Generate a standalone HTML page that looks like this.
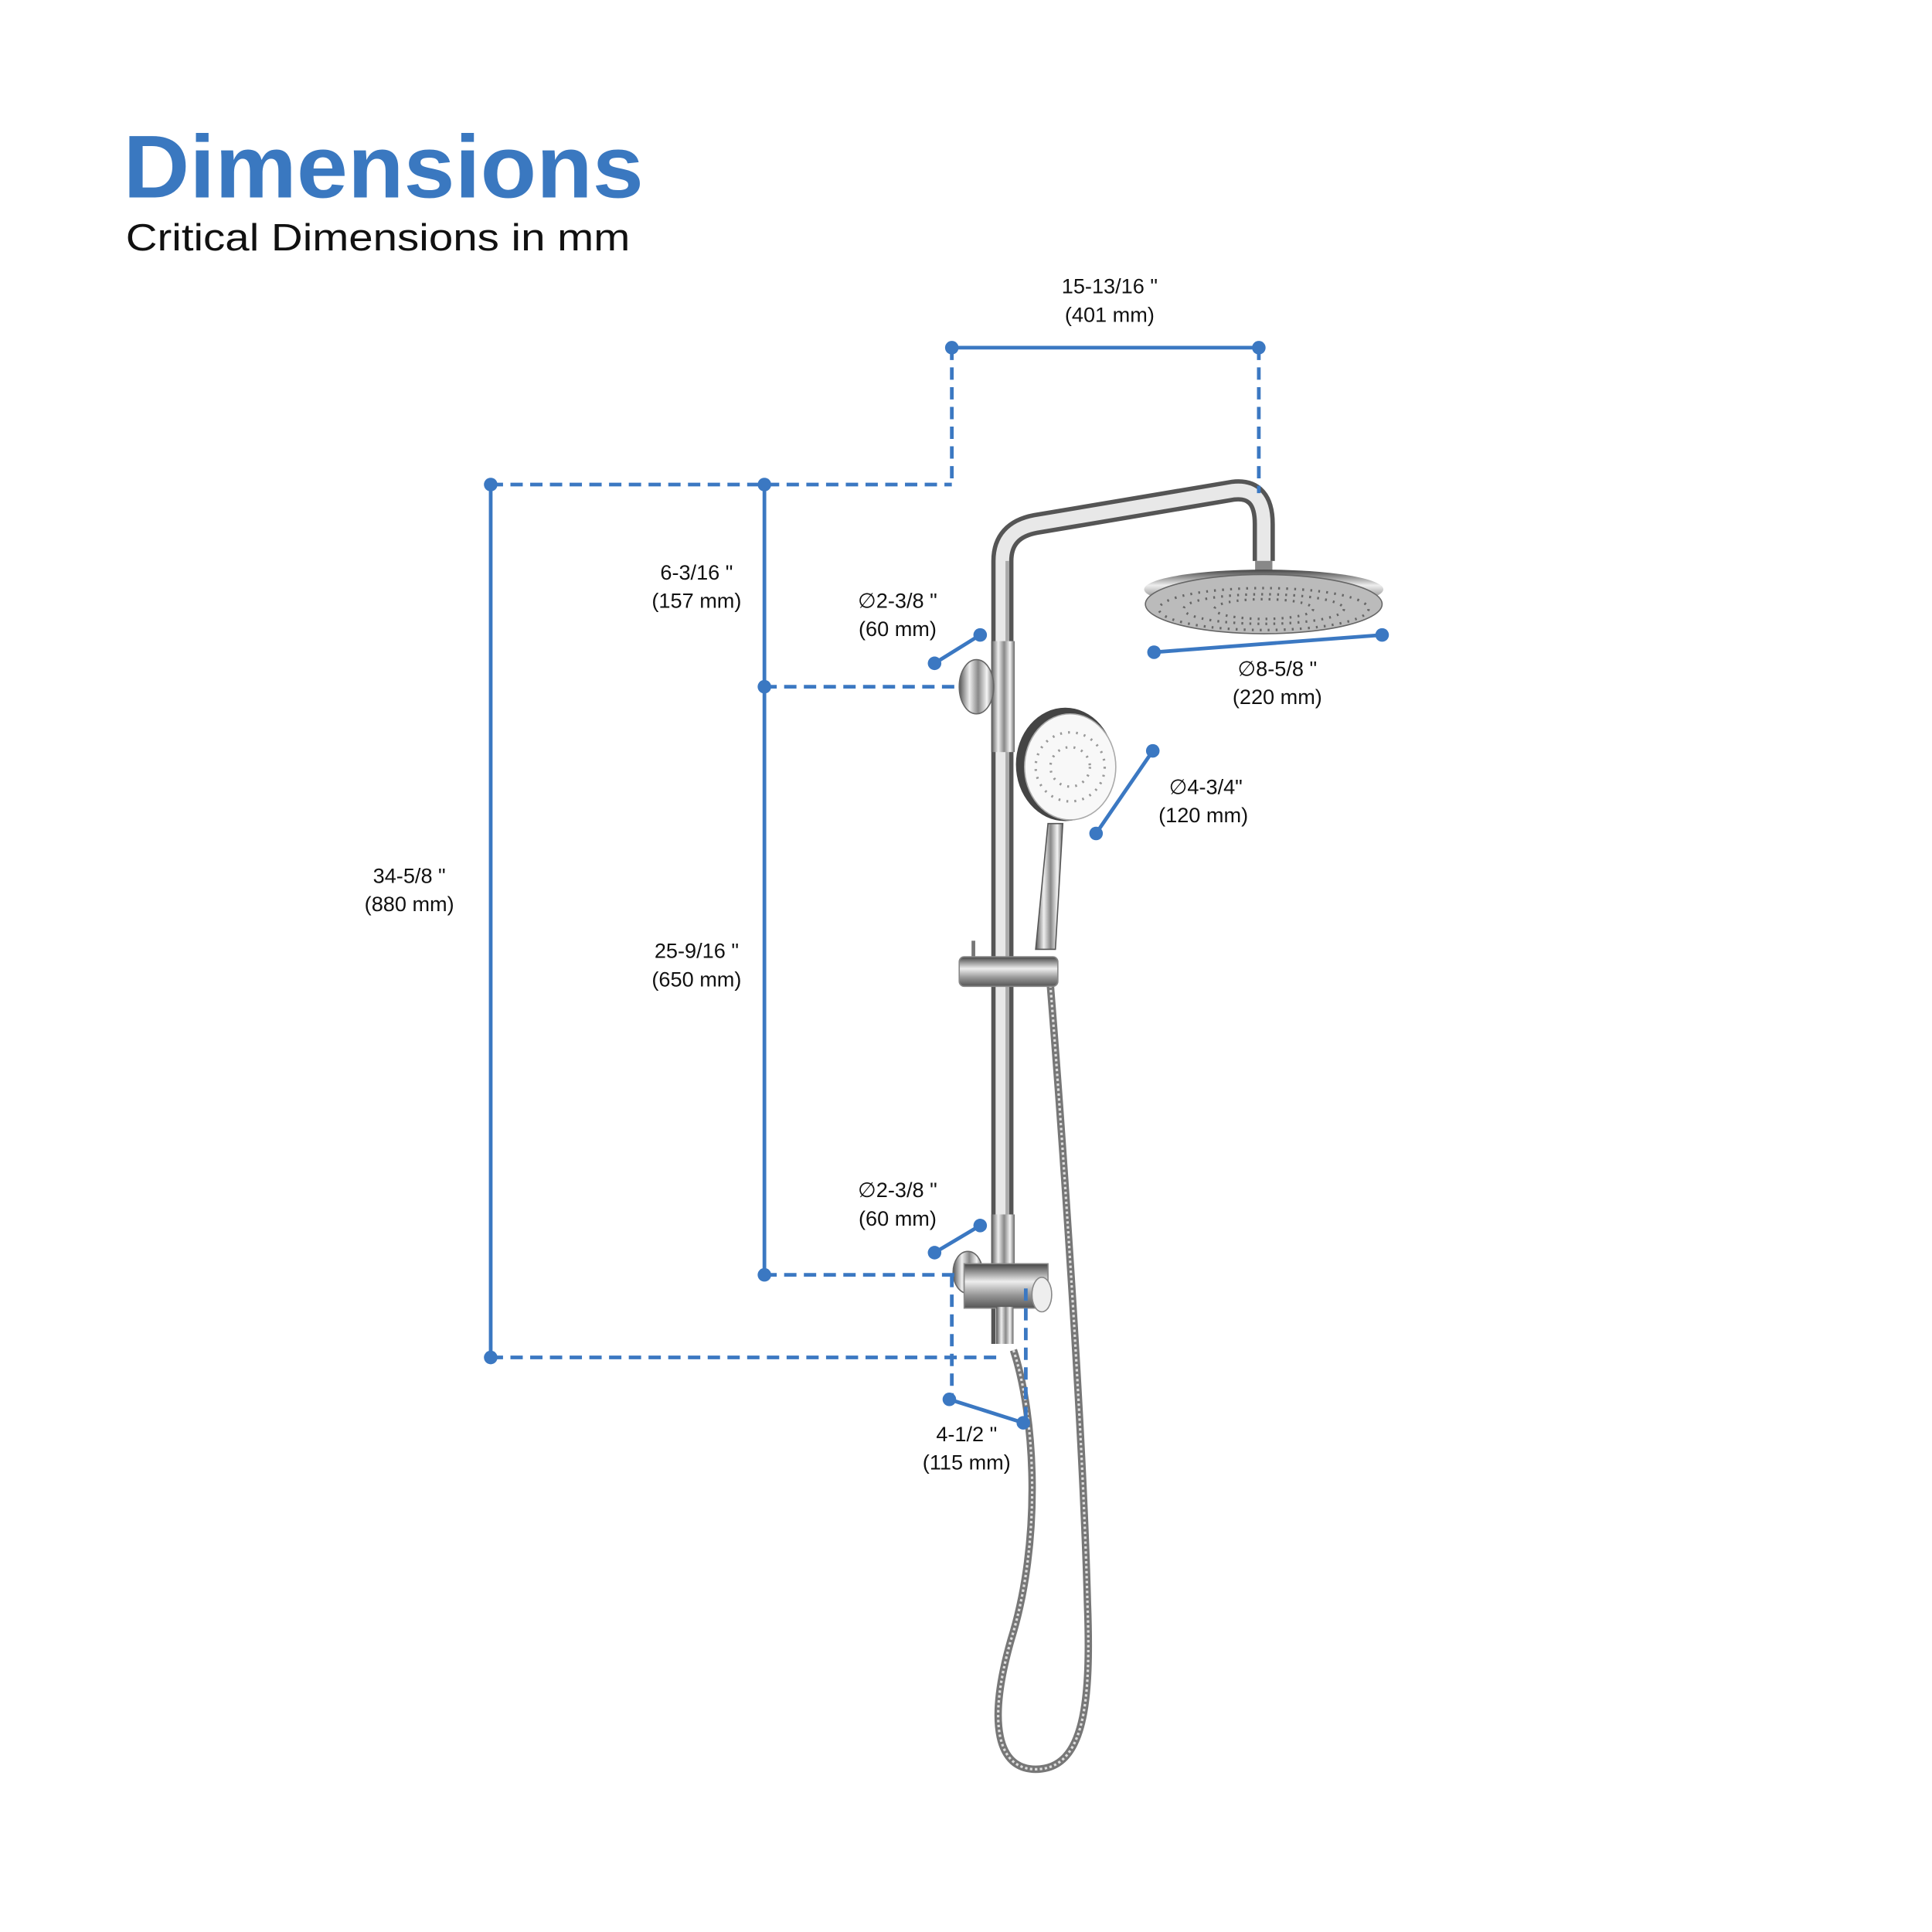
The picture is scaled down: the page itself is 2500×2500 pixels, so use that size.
<!DOCTYPE html>
<html><head><meta charset="utf-8"><style>
html,body{margin:0;padding:0;background:#fff;}
svg{display:block;}
text{font-family:"Liberation Sans",sans-serif;}
</style></head><body>
<svg width="2500" height="2500" viewBox="0 0 1567 1567" xmlns="http://www.w3.org/2000/svg">
<defs>
<linearGradient id="chrome" x1="0" x2="1" y1="0" y2="0">
<stop offset="0" stop-color="#555"/><stop offset="0.3" stop-color="#eee"/><stop offset="0.55" stop-color="#888"/><stop offset="0.8" stop-color="#f4f4f4"/><stop offset="1" stop-color="#666"/>
</linearGradient>
<linearGradient id="chromeV" x1="0" x2="0" y1="0" y2="1">
<stop offset="0" stop-color="#444"/><stop offset="0.4" stop-color="#eee"/><stop offset="0.7" stop-color="#999"/><stop offset="1" stop-color="#555"/>
</linearGradient>
</defs>
<rect width="1567" height="1567" fill="#fff"/>
<text x="100" y="160" font-size="72" font-weight="bold" fill="#3a78c0" textLength="422" lengthAdjust="spacingAndGlyphs">Dimensions</text>
<text x="102" y="203" font-size="31" fill="#111" textLength="409" lengthAdjust="spacingAndGlyphs">Critical Dimensions in mm</text>

<g>
<path d="M822 1095 C840 1150 845 1250 820 1330 C800 1400 810 1435 840 1435 C880 1435 885 1380 882 1300 C878 1150 860 900 852 800" fill="none" stroke="#777" stroke-width="6"/>
<path d="M822 1095 C840 1150 845 1250 820 1330 C800 1400 810 1435 840 1435 C880 1435 885 1380 882 1300 C878 1150 860 900 852 800" fill="none" stroke="#ddd" stroke-width="2" stroke-dasharray="2 2"/>
<path d="M813 1090 L813 455 Q813 430 840 425 L1000 398 Q1025 395 1025 425 L1025 455" fill="none" stroke="#555" stroke-width="18" stroke-linejoin="round"/>
<path d="M813 1090 L813 455 Q813 430 840 425 L1000 398 Q1025 395 1025 425 L1025 455" fill="none" stroke="#e8e8e8" stroke-width="11"/>
<path d="M817 1090 L817 455" stroke="#aaa" stroke-width="3"/>
<rect x="804" y="520" width="19" height="90" fill="url(#chrome)"/>
<rect x="804" y="985" width="19" height="40" fill="url(#chrome)"/>
<ellipse cx="792" cy="557" rx="14" ry="22" fill="url(#chrome)" stroke="#666"/>
<rect x="1018" y="455" width="14" height="12" fill="#888"/>
<ellipse cx="1025" cy="478" rx="97" ry="16" fill="url(#chromeV)"/>
<ellipse cx="1025" cy="490" rx="96" ry="24" fill="#bbb" stroke="#666"/>
<ellipse cx="1025" cy="494" rx="85" ry="17" fill="none" stroke="#666" stroke-width="2" stroke-dasharray="1.5 5"/>
<ellipse cx="1025" cy="494" rx="65" ry="12" fill="none" stroke="#666" stroke-width="2" stroke-dasharray="1.5 5"/>
<ellipse cx="1025" cy="494" rx="40" ry="8" fill="none" stroke="#666" stroke-width="2" stroke-dasharray="1.5 5"/>
<path d="M850 668 L862 668 L856 770 L840 770 Z" fill="url(#chrome)" stroke="#555"/>
<ellipse cx="864" cy="620" rx="40" ry="46" fill="#444"/>
<ellipse cx="868" cy="622" rx="37" ry="43" fill="#f8f8f8" stroke="#aaa"/>
<circle cx="868" cy="622" r="28" fill="none" stroke="#999" stroke-width="2" stroke-dasharray="1.5 5"/>
<circle cx="868" cy="622" r="16" fill="none" stroke="#999" stroke-width="2" stroke-dasharray="1.5 5"/>
<rect x="788" y="763" width="3" height="15" fill="#777"/>
<rect x="778" y="776" width="80" height="24" rx="4" fill="url(#chromeV)" stroke="#888"/>
<ellipse cx="785" cy="1032" rx="12" ry="17" fill="url(#chrome)" stroke="#666"/>
<rect x="782" y="1025" width="68" height="36" fill="url(#chromeV)" stroke="#888"/>
<ellipse cx="845" cy="1050" rx="8" ry="14" fill="#eee" stroke="#888"/>
<rect x="808" y="1060" width="14" height="30" fill="url(#chrome)"/>
</g>

<g stroke="#3b78c2" stroke-width="3" fill="none">
<line x1="772" y1="282" x2="1021" y2="282"/>
<line x1="398" y1="393" x2="398" y2="1101"/>
<line x1="620" y1="393" x2="620" y2="1034"/>
<line x1="758" y1="538" x2="795" y2="515"/>
<line x1="758" y1="1016" x2="795" y2="994"/>
<line x1="936" y1="529" x2="1121" y2="515"/>
<line x1="889" y1="676" x2="935" y2="609"/>
<line x1="770" y1="1135" x2="830" y2="1154"/>
<g stroke-dasharray="10 6">
<line x1="772" y1="282" x2="772" y2="393"/>
<line x1="1021" y1="282" x2="1021" y2="400"/>
<line x1="398" y1="393" x2="772" y2="393"/>
<line x1="398" y1="1101" x2="808" y2="1101"/>
<line x1="620" y1="557" x2="775" y2="557"/>
<line x1="620" y1="1034" x2="775" y2="1034"/>
<line x1="772" y1="1034" x2="772" y2="1135"/>
<line x1="832" y1="1045" x2="832" y2="1154"/>
</g>
</g>
<g fill="#3b78c2">
<circle cx="772" cy="282" r="5.5"/><circle cx="1021" cy="282" r="5.5"/>
<circle cx="398" cy="393" r="5.5"/><circle cx="620" cy="393" r="5.5"/>
<circle cx="398" cy="1101" r="5.5"/><circle cx="620" cy="557" r="5.5"/><circle cx="620" cy="1034" r="5.5"/>
<circle cx="758" cy="538" r="5.5"/><circle cx="795" cy="515" r="5.5"/>
<circle cx="758" cy="1016" r="5.5"/><circle cx="795" cy="994" r="5.5"/>
<circle cx="936" cy="529" r="5.5"/><circle cx="1121" cy="515" r="5.5"/>
<circle cx="889" cy="676" r="5.5"/><circle cx="935" cy="609" r="5.5"/>
<circle cx="770" cy="1135" r="5.5"/><circle cx="830" cy="1154" r="5.5"/>
</g>

<g font-size="17" fill="#111" text-anchor="middle">
<text x="900" y="238">15-13/16 "</text><text x="900" y="261">(401 mm)</text>
<text x="565" y="470">6-3/16 "</text><text x="565" y="493">(157 mm)</text>
<text x="728" y="493">∅2-3/8 "</text><text x="728" y="516">(60 mm)</text>
<text x="1036" y="548">∅8-5/8 "</text><text x="1036" y="571">(220 mm)</text>
<text x="978" y="644">∅4-3/4"</text><text x="976" y="667">(120 mm)</text>
<text x="332" y="716">34-5/8 "</text><text x="332" y="739">(880 mm)</text>
<text x="565" y="777">25-9/16 "</text><text x="565" y="800">(650 mm)</text>
<text x="728" y="971">∅2-3/8 "</text><text x="728" y="994">(60 mm)</text>
<text x="784" y="1169">4-1/2 "</text><text x="784" y="1192">(115 mm)</text>
</g>
</svg>
</body></html>
